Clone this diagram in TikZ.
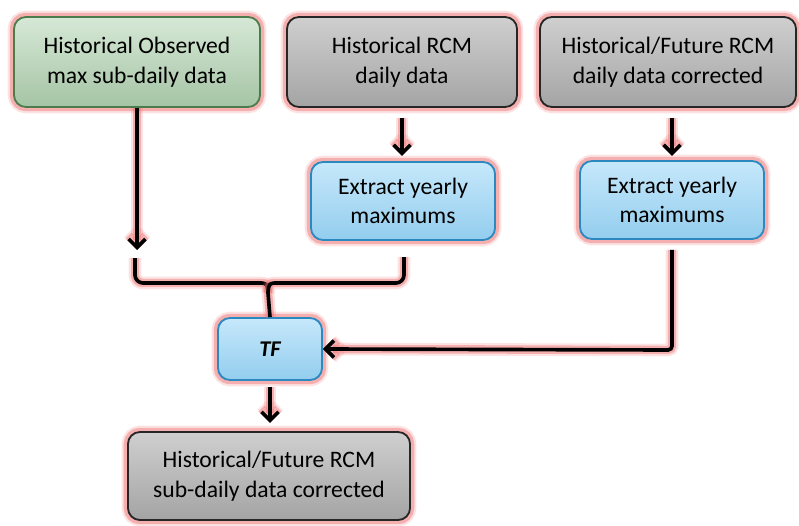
\documentclass[tikz,border=0pt]{standalone}
\usepackage{fontspec}
\setmainfont{Carlito}
\usetikzlibrary{arrows.meta}

\definecolor{obsTop}{HTML}{D6E8D6}
\definecolor{obsBot}{HTML}{A5C4A5}
\definecolor{obsLine}{HTML}{4C7C4C}
\definecolor{rcmTop}{HTML}{CFCFCF}
\definecolor{rcmBot}{HTML}{A4A4A4}
\definecolor{extTop}{HTML}{C6E8FB}
\definecolor{extBot}{HTML}{93CDEE}
\definecolor{extLine}{HTML}{2B89BF}
\definecolor{glowRed}{HTML}{EE7070}

\begin{document}
\begin{tikzpicture}[x=0.025cm,y=-0.025cm,
    glow/.style={preaction={draw=glowRed,line width=9pt,opacity=0.2},
                 preaction={draw=glowRed,line width=6pt,opacity=0.45}},
    box/.style={glow,rounded corners=0.3cm,line width=1.3pt,align=center,inner sep=0pt,
                font=\fontsize{16.8}{21}\selectfont},
    obs/.style={box,draw=obsLine,top color=obsTop,bottom color=obsBot,minimum width=6.15cm,minimum height=2.25cm},
    rcm/.style={box,draw=black!85,top color=rcmTop,bottom color=rcmBot,minimum height=2.25cm},
    ext/.style={box,draw=extLine,top color=extTop,bottom color=extBot,minimum width=4.6cm,minimum height=1.95cm},
    flow/.style={glow,line width=2.6pt,-{Straight Barb[length=6pt,width=12pt]}},
    link/.style={glow,line width=2.6pt,rounded corners=0.2cm}]
\useasboundingbox (0,0) rectangle (799,525);

% inputs
\node[obs] (obs) at (137,62) {Historical Observed\\max sub-daily data};
\node[rcm,minimum width=5.75cm] (hist) at (402,62) {Historical RCM\\daily data};
\node[rcm,minimum width=6.4cm] (fut) at (668,62) {Historical/Future RCM\\daily data corrected};

% yearly maxima
\node[ext] (exth) at (403,201) {Extract yearly\\maximums};
\node[ext] (extf) at (672,200) {Extract yearly\\maximums};

% transfer function and result
\node[ext,minimum width=2.6cm,minimum height=1.55cm,font=\fontsize{16}{20}\selectfont\bfseries\itshape] (tf) at (270,349) {TF};
\node[rcm,minimum width=7.05cm,minimum height=2.2cm] (out) at (269,476) {Historical/Future RCM\\sub-daily data corrected};

\coordinate (obsend) at (137,250);
\coordinate (bl) at (135,258);
\coordinate (br) at (404,257);
\coordinate (join) at (268,293);
\coordinate (turn) at (672,350);

\draw[flow] (obs.south) -- (obsend);
\draw[flow] (hist.south) ++(0,10) -- ++(0,38);
\draw[flow] (fut.south) ++(4,10) -- ++(0,38);

% bracket into TF
\draw[link] (bl) -- (135,283) -- (258,283);
\draw[link] (br) -- (404,283) -- (278,283);
\draw[glow,line width=2.6pt] (258,283) .. controls (267,283) .. (join);
\draw[glow,line width=2.6pt] (278,283) .. controls (269,283) .. (join);
\draw[glow,line width=2.6pt] (join) -- (tf.north);

\draw[flow,rounded corners=0.1cm] (extf.south) ++(0,10) -- (turn) -- (tf.east);
\draw[flow] (tf.south) ++(0,6) -- ++(0,36);
\end{tikzpicture}
\end{document}
